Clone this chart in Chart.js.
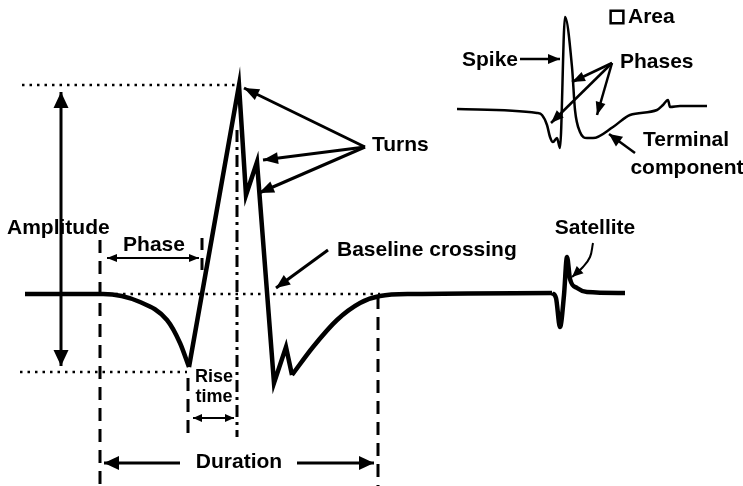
<!DOCTYPE html>
<html>
<head>
<meta charset="utf-8">
<script src="https://cdn.jsdelivr.net/npm/chart.js@4.4.0/dist/chart.umd.min.js"></script>
<style>
  html, body { margin: 0; padding: 0; background: #fff; }
  #wrap { width: 743px; height: 486px; position: relative; }
</style>
</head>
<body>
<div id="wrap"><canvas id="muap"></canvas></div>
<script>
// waveform samples in picture units: x = time, y = potential (y axis runs downward)
const onsetCurve = [[25, 294], [103, 294], [140, 302], [167, 320], [180, 343], [189, 367]];
const spikeTrace = [[189, 367], [239, 85], [246, 195], [257, 162], [274, 383], [286, 347], [292, 375]];
const recoveryCurve = [[292, 375], [313, 347], [337, 320], [360, 303], [380, 296], [413, 294], [552, 293]];
const satelliteTrace = [[552, 293], [556, 298], [560, 327], [564, 295], [567, 257], [570, 279], [577, 288], [587, 292], [625, 293]];
const insetTrace = [[457, 109], [537, 113], [542, 115], [547, 125], [550, 137], [553, 142], [557, 138], [560, 148],
  [565, 17], [572, 67], [575, 110], [580, 132], [587, 138], [593, 138], [613, 127], [630, 115], [657, 110],
  [663, 105], [668, 100], [670, 107], [680, 106], [707, 106]];

// reference lines
const peakLevel = [[22, 85], [237, 85]];
const troughLevel = [[20, 372], [187, 372]];
const baseLevel = [[108, 294], [380, 294]];
const onsetMark = [[100, 240], [100, 486]];
const endMark = [[378, 296], [378, 486]];
const troughMark = [[188, 378], [188, 437]];
const peakMark = [[237, 130], [237, 437]];
const phaseMark = [[202, 238], [202, 276]];

// arrows: first point = tail, last point = head
const amplitudeArrow = [[61, 92], [61, 366]];
const phaseArrow = [[107, 258], [199, 258]];
const riseArrow = [[193, 418], [234, 418]];
const durationLeft = [[180, 463], [104, 463]];
const durationRight = [[297, 463], [374, 463]];
const turnsArrows = [
  [[365, 147], [244, 88]],
  [[365, 147], [263, 160]],
  [[365, 147], [259, 193]]
];
const crossingArrow = [[328, 250], [276, 288]];
const satelliteArrow = [[593, 243], [590, 257], [583, 267], [572, 277]];
const spikeArrow = [[520, 59], [560, 59]];
const phasesArrows = [
  [[612, 63], [572, 82]],
  [[612, 63], [551, 123]],
  [[612, 63], [597, 115]]
];
const terminalArrow = [[635, 153], [609, 134]];
const areaBox = [[617, 17]];

const labelTexts = ["Amplitude", "Phase", "Rise", "time", "Duration", "Turns", "Baseline crossing",
  "Satellite", "Spike", "Phases", "Area", "Terminal", "component"];

const pts = (arr) => arr.map((p) => ({ x: p[0], y: p[1] }));

function line(data, opts) {
  return Object.assign({
    data: pts(data),
    showLine: true,
    borderColor: "#000",
    backgroundColor: "#000",
    borderWidth: 3,
    pointRadius: 0,
    tension: 0,
    borderCapStyle: "butt",
  }, opts);
}

const dotted = { borderWidth: 2.5, borderDash: [2.5, 5] };
const dashed = { borderWidth: 3, borderDash: [13, 8] };

const datasets = [
  line(peakLevel, dotted),
  line(troughLevel, dotted),
  line(baseLevel, dotted),
  line(onsetMark, dashed),
  line(endMark, dashed),
  line(troughMark, dashed),
  line(phaseMark, { borderWidth: 3, borderDash: [12, 8] }),
  line(peakMark, { borderWidth: 3, borderDash: [12, 5, 3, 5] }),
  line(onsetCurve, { borderWidth: 4.5, cubicInterpolationMode: "monotone" }),
  line(spikeTrace, { borderWidth: 4.5, borderJoinStyle: "miter" }),
  line(recoveryCurve, { borderWidth: 4.5, cubicInterpolationMode: "monotone" }),
  line(satelliteTrace, { borderWidth: 4.5, cubicInterpolationMode: "monotone" }),
  line(insetTrace, { borderWidth: 2.5, cubicInterpolationMode: "monotone", borderJoinStyle: "round" }),
  line(amplitudeArrow, { arrow: "both", arrowLen: 16, arrowHalf: 7.5 }),
  line(phaseArrow, { borderWidth: 2, arrow: "both", arrowLen: 10, arrowHalf: 4 }),
  line(riseArrow, { borderWidth: 2, arrow: "both", arrowLen: 9, arrowHalf: 4 }),
  line(durationLeft, { arrow: "end", arrowLen: 15, arrowHalf: 7 }),
  line(durationRight, { arrow: "end", arrowLen: 15, arrowHalf: 7 }),
  ...turnsArrows.map((a) => line(a, { arrow: "end", arrowLen: 15, arrowHalf: 6 })),
  line(crossingArrow, { arrow: "end", arrowLen: 14, arrowHalf: 6 }),
  line(satelliteArrow, { borderWidth: 2, tension: 0.4, arrow: "end", arrowLen: 11, arrowHalf: 5 }),
  line(spikeArrow, { borderWidth: 2.5, arrow: "end", arrowLen: 12, arrowHalf: 5 }),
  ...phasesArrows.map((a) => line(a, { borderWidth: 2.5, arrow: "end", arrowLen: 13, arrowHalf: 5 })),
  line(terminalArrow, { borderWidth: 2.5, arrow: "end", arrowLen: 13, arrowHalf: 6 }),
  {
    data: pts(areaBox),
    showLine: false,
    pointStyle: "rect",
    pointRadius: 9,
    borderWidth: 2.5,
    borderColor: "#000",
    backgroundColor: "#fff",
  },
];

// where each label sits: [x, y, align, size]
const labelSpots = [
  [7, 228, "left", 21], [154, 245, "center", 21], [214, 377, "center", 18], [214, 397, "center", 18],
  [239, 462, "center", 21], [372, 145, "left", 21], [337, 250, "left", 21], [595, 228, "center", 21],
  [462, 60, "left", 21], [620, 62, "left", 21], [628, 17, "left", 21], [686, 140, "center", 21],
  [687, 168, "center", 21]
];

const arrowHeads = {
  id: "arrowHeads",
  afterDatasetsDraw(chart) {
    const ctx = chart.ctx;
    chart.data.datasets.forEach((ds, i) => {
      if (!ds.arrow) return;
      const el = chart.getDatasetMeta(i).data;
      const n = el.length;
      const head = (a, b) => {
        const ang = Math.atan2(b.y - a.y, b.x - a.x);
        ctx.save();
        ctx.translate(b.x, b.y);
        ctx.rotate(ang);
        ctx.beginPath();
        ctx.moveTo(0, 0);
        ctx.lineTo(-ds.arrowLen, -ds.arrowHalf);
        ctx.lineTo(-ds.arrowLen, ds.arrowHalf);
        ctx.closePath();
        ctx.fillStyle = "#000";
        ctx.fill();
        ctx.restore();
      };
      if (ds.arrow === "end" || ds.arrow === "both") head(el[n - 2], el[n - 1]);
      if (ds.arrow === "both") head(el[1], el[0]);
    });
  },
};

const labels = {
  id: "labels",
  afterDraw(chart) {
    const ctx = chart.ctx;
    const xs = chart.scales.x;
    const ys = chart.scales.y;
    ctx.save();
    ctx.fillStyle = "#000";
    ctx.textBaseline = "middle";
    labelTexts.forEach((t, i) => {
      const s = labelSpots[i];
      ctx.font = `bold ${s[3]}px "Liberation Sans", Arial, sans-serif`;
      ctx.textAlign = s[2];
      ctx.fillText(t, xs.getPixelForValue(s[0]), ys.getPixelForValue(s[1]));
    });
    ctx.restore();
  },
};

new Chart(document.getElementById("muap"), {
  type: "scatter",
  data: { datasets },
  options: {
    responsive: true,
    maintainAspectRatio: false,
    animation: false,
    events: [],
    layout: { padding: 0, autoPadding: false },
    plugins: { legend: { display: false }, tooltip: { enabled: false } },
    scales: {
      x: { type: "linear", min: 0, max: 743, display: false },
      y: { type: "linear", min: 0, max: 486, reverse: true, display: false },
    },
  },
  plugins: [arrowHeads, labels],
});
</script>
</body>
</html>
